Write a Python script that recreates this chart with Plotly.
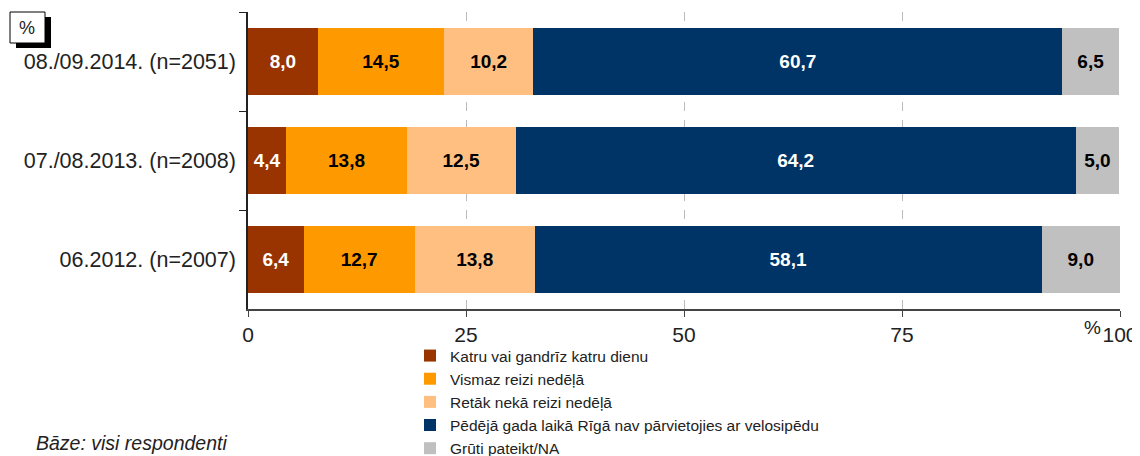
import plotly.graph_objects as go

categories = ["08./09.2014. (n=2051)", "07./08.2013. (n=2008)", "06.2012. (n=2007)"]
series_names = [
    "Katru vai gandrīz katru dienu",
    "Vismaz reizi nedēļā",
    "Retāk nekā reizi nedēļā",
    "Pēdējā gada laikā Rīgā nav pārvietojies ar velosipēdu",
    "Grūti pateikt/NA",
]
katru = [8.0, 4.4, 6.4]
vismaz = [14.5, 13.8, 12.7]
retak = [10.2, 12.5, 13.8]
nav = [60.7, 64.2, 58.1]
gruti = [6.5, 5.0, 9.0]
values = [katru, vismaz, retak, nav, gruti]
colors = ["#993300", "#FF9900", "#FFBF80", "#003366", "#C0C0C0"]
text_colors = ["white", "black", "black", "white", "black"]
tick_vals = [0, 25, 50, 75, 100]
tick_text = ["0", "25", "50", "75", "100"]

FONT = "Liberation Sans, Arial, sans-serif"
fig = go.Figure()
for name, vals, col, tc in zip(series_names, values, colors, text_colors):
    fig.add_trace(go.Bar(
        y=categories, x=vals, name=name, orientation="h",
        marker=dict(color=col, line=dict(width=0)),
        text=[f"{v:.1f}".replace(".", ",") for v in vals],
        textposition="inside", insidetextanchor="middle", textangle=0,
        constraintext="none",
        insidetextfont=dict(color=tc, size=19, family=FONT, weight="bold"),
        hoverinfo="skip",
    ))

# page has an 8px body margin: figure origin sits at screen (8, 8)
OFF = 8
W, H = 1140 - OFF, 456 - OFF
PL, PR, PT, PB = 248, 1120, 12, 309  # plot area in screen pixels
L, R, T, B = PL - OFF, W - (PR - OFF), PT - OFF, H - (PB - OFF)
pw, ph = W - L - R, H - T - B

def px(x):
    return (x - PL) / pw

def py(y):
    return (PB - y) / ph

fig.update_layout(
    width=W, height=H, barmode="stack", bargap=0.33,
    margin=dict(l=L, r=R, t=T, b=B, autoexpand=False),
    paper_bgcolor="white", plot_bgcolor="white",
    font=dict(family=FONT, size=20, color="#222"),
    showlegend=True,
    legend=dict(x=px(410), y=py(339), xanchor="left", yanchor="top",
                traceorder="normal", font=dict(size=15.5, color="#222"),
                bgcolor="rgba(0,0,0,0)", tracegroupgap=0, itemwidth=30),
    xaxis=dict(range=[0, 100], tickvals=tick_vals, ticktext=tick_text,
               showgrid=True, gridcolor="#BBBBBB", griddash="dash", gridwidth=1,
               zeroline=False, showline=True, linecolor="#444", linewidth=1.5,
               ticks="outside", ticklen=6, tickcolor="#444", automargin=False,
               tickfont=dict(size=21, color="#222")),
    yaxis=dict(categoryorder="array", categoryarray=categories, autorange="reversed",
               showline=True, linecolor="#222", linewidth=1.5,
               ticks="outside", tickson="boundaries", ticklen=7, tickcolor="#222",
               showgrid=False, tickfont=dict(size=21.5, color="#222"),
               ticklabelstandoff=6, automargin=False),
)

# "%" box with shadow
fig.add_shape(type="rect", xref="paper", yref="paper",
              x0=px(16), x1=px(51), y0=py(48), y1=py(17),
              fillcolor="black", line=dict(width=0), layer="above")
fig.add_shape(type="rect", xref="paper", yref="paper",
              x0=px(10), x1=px(45), y0=py(43), y1=py(12),
              fillcolor="white", line=dict(color="black", width=1), layer="above")
fig.add_annotation(xref="paper", yref="paper", x=px(27.5), y=py(28), text="%",
                   showarrow=False, font=dict(size=18, color="#222"),
                   xanchor="center", yanchor="middle")
# "%" near 100 tick
fig.add_annotation(xref="paper", yref="paper", x=px(1092), y=py(327), text="%",
                   showarrow=False, font=dict(size=19, color="#222"),
                   xanchor="center", yanchor="middle")
# Base note
fig.add_annotation(xref="paper", yref="paper", x=px(34), y=py(443), text="<i>Bāze: visi respondenti</i>",
                   showarrow=False, font=dict(size=19.5, color="#222"),
                   xanchor="left", yanchor="middle")

fig.write_html("out.html")
